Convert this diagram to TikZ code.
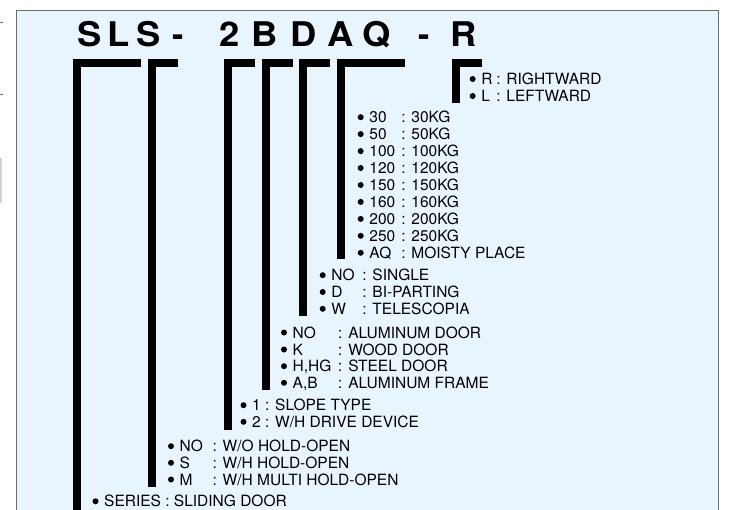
\documentclass[tikz,border=0pt]{standalone}
\usepackage{fontspec}
\usepackage{graphicx}
\setmainfont{TeX Gyre Heros}
\definecolor{panelblue}{HTML}{E9F5FE}
\definecolor{panelline}{HTML}{6E6E6E}
\definecolor{sidegray}{HTML}{D4D4D4}
\newcommand\codebox[2]{\makebox[#1][l]{#2}}
\newcommand\tch[1]{\scalebox{1.07}[1]{#1}}
\begin{document}
\begin{tikzpicture}[x=1pt,y=-1pt,
  item/.style={anchor=base west, inner sep=0pt, font=\fontsize{15.5}{17}\selectfont},
  titlechar/.style={anchor=base, inner sep=0pt, font=\fontsize{34}{36}\selectfont\bfseries},
  bracket/.style={line width=8pt, line join=miter, line cap=butt}]
\useasboundingbox (0,0) rectangle (731,509);
\clip (0,0) rectangle (731,509);
% side marks outside the panel
\draw[panelline, line width=0.8pt] (0,22.7) -- (3,22.7);
\draw[panelline, line width=0.8pt] (0,94) -- (3,94);
\fill[sidegray] (0,158) rectangle (2,203);
% panel
\filldraw[fill=panelblue, draw=panelline, line width=1pt] (16,10.5) rectangle (718.5,530);
% title
\node[titlechar] (t1) at (90,46.7) {\tch{S}};
\node[titlechar] (t2) at (119,46.7) {\tch{L}};
\node[titlechar] (t3) at (148.5,46.7) {\tch{S}};
\node[titlechar] (t4) at (178,46.7) {-};
\node[titlechar] (t5) at (229.5,46.7) {\tch{2}};
\node[titlechar] (t6) at (265,46.7) {\tch{B}};
\node[titlechar] (t7) at (303.5,46.7) {\tch{D}};
\node[titlechar] (t8) at (340.5,46.7) {\tch{A}};
\node[titlechar] (t9) at (376.5,46.7) {\tch{Q}};
\node[titlechar] (t10) at (424,46.7) {-};
\node[titlechar] (t11) at (463.5,46.7) {\tch{R}};
% bracket end points
\coordinate (b1top) at (141,63.3);   \coordinate (b1bot) at (76.7,520);
\coordinate (b2top) at (178,63.3);   \coordinate (b2bot) at (151.7,487);
\coordinate (b3top) at (255,63.3);   \coordinate (b3bot) at (227.5,430);
\coordinate (b4top) at (292.7,63.3); \coordinate (b4bot) at (265.7,390);
\coordinate (b5top) at (330,63.3);   \coordinate (b5bot) at (303.3,316);
\coordinate (b6top) at (405,63.3);   \coordinate (b6bot) at (340.7,259);
\coordinate (b7top) at (481.7,63.3); \coordinate (b7bot) at (455.7,103);
\foreach \i in {1,...,7} { \draw[bracket] (b\i bot) |- (b\i top); }
% R / L
\node[item] (r1) at (481.2,84.5) {\codebox{15pt}{R}: RIGHTWARD};
\node[item] (r2) at (481.2,101.5) {\codebox{15pt}{L}: LEFTWARD};
% capacity
\node[item] (c1) at (369.2,122.7) {\codebox{32pt}{30}: 30KG};
\node[item] (c2) at (369.2,139.6) {\codebox{32pt}{50}: 50KG};
\node[item] (c3) at (369.2,156.6) {\codebox{32pt}{100}: 100KG};
\node[item] (c4) at (369.2,173.5) {\codebox{32pt}{120}: 120KG};
\node[item] (c5) at (369.2,190.5) {\codebox{32pt}{150}: 150KG};
\node[item] (c6) at (369.2,207.4) {\codebox{32pt}{160}: 160KG};
\node[item] (c7) at (369.2,224.4) {\codebox{32pt}{200}: 200KG};
\node[item] (c8) at (369.2,241.3) {\codebox{32pt}{250}: 250KG};
\node[item] (c9) at (369.2,258.3) {\codebox{32pt}{AQ}: MOISTY PLACE};
% opening type
\node[item] (o1) at (331.2,280.7) {\codebox{31pt}{NO}: SINGLE};
\node[item] (o2) at (331.2,297.5) {\codebox{31pt}{D}: BI-PARTING};
\node[item] (o3) at (331.2,314.3) {\codebox{31pt}{W}: TELESCOPIA};
% door type
\node[item] (d1) at (292.5,338) {\codebox{45.5pt}{NO}: ALUMINUM DOOR};
\node[item] (d2) at (292.5,355) {\codebox{45.5pt}{K}: WOOD DOOR};
\node[item] (d3) at (292.5,371.7) {\codebox{45.5pt}{H,HG}: STEEL DOOR};
\node[item] (d4) at (292.5,388.3) {\codebox{45.5pt}{A,B}: ALUMINUM FRAME};
% type
\node[item] (s1) at (252,410.7) {1 : SLOPE TYPE};
\node[item] (s2) at (252,427.3) {2 : W/H DRIVE DEVICE};
% hold-open
\node[item] (h1) at (179.5,451.7) {\codebox{33pt}{NO}: W/O HOLD-OPEN};
\node[item] (h2) at (179.5,468.3) {\codebox{33pt}{S}: W/H HOLD-OPEN};
\node[item] (h3) at (179.5,485) {\codebox{33pt}{M}: W/H MULTI HOLD-OPEN};
% series
\node[item] (se) at (104,506.8) {SERIES : SLIDING DOOR};
% bullets
\foreach \n in {r1,r2,c1,c2,c3,c4,c5,c6,c7,c8,c9,o1,o2,o3,d1,d2,d3,d4,s1,s2,h1,h2,h3,se}
  { \fill ([xshift=-8.5pt,yshift=5.5pt]\n.base west) circle (3pt); }
\end{tikzpicture}
\end{document}
